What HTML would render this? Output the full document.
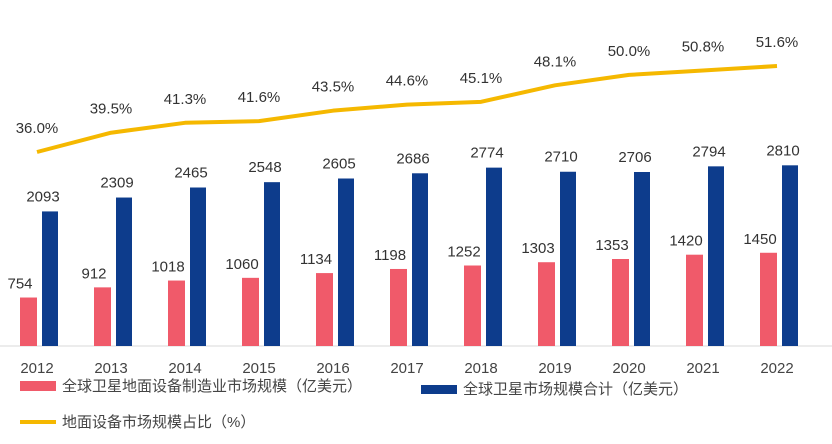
<!DOCTYPE html>
<html><head><meta charset="utf-8"><style>
body{margin:0;background:#fff;}
svg{display:block;font-family:"Liberation Sans","Noto Sans CJK SC",sans-serif;}
</style></head><body>
<svg id="c" width="832" height="444" viewBox="0 0 832 444">
<line x1="0" y1="346" x2="832" y2="346" stroke="#d9d9d9" stroke-width="1"/>
<g id="bars"></g>
<g id="lineg"></g>
<g id="xt"></g>
<g>
<rect x="20" y="381" width="36" height="10" fill="#f05a6a"/>
<text x="62" y="391" font-size="15" fill="#444">全球卫星地面设备制造业市场规模（亿美元）</text>
<rect x="421" y="385" width="36" height="9" fill="#0d3c8c"/>
<text x="463" y="394" font-size="15" fill="#444">全球卫星市场规模合计（亿美元）</text>
<line x1="20" y1="422" x2="56" y2="422" stroke="#f5b800" stroke-width="4"/>
<text x="62" y="427" font-size="15" fill="#444">地面设备市场规模占比（%）</text>
</g>
</svg>
<script>
const years=["2012","2013","2014","2015","2016","2017","2018","2019","2020","2021","2022"];
const ground=[754,912,1018,1060,1134,1198,1252,1303,1353,1420,1450];
const total=[2093,2309,2465,2548,2605,2686,2774,2710,2706,2794,2810];
const ratio=[36.0,39.5,41.3,41.6,43.5,44.6,45.1,48.1,50.0,50.8,51.6];
const NS="http://www.w3.org/2000/svg";
const base=346,k=0.0643;
function xc(i){return 39+i*74;}
function yb(v){return base-v*k;}
function yl(p){return 152-(p-36)*5.51;}
function mk(t,a,p){const e=document.createElementNS(NS,t);for(const n in a)e.setAttribute(n,a[n]);p.appendChild(e);return e;}
const bars=document.getElementById('bars'),lg=document.getElementById('lineg'),xt=document.getElementById('xt');
years.forEach((y,i)=>{
 const r=mk('rect',{x:xc(i)-19,y:yb(ground[i]),width:17,height:base-yb(ground[i]),fill:'#f05a6a'},bars);
 
 
 const b=mk('rect',{x:xc(i)+3,y:yb(total[i]),width:16,height:base-yb(total[i]),fill:'#0d3c8c'},bars);
 
 
 const t1=mk('text',{x:xc(i)-19,y:yb(ground[i])-9,'font-size':15,fill:'#333','text-anchor':'middle'},bars);t1.textContent=ground[i];
 
 
 const t2=mk('text',{x:xc(i)+4,y:yb(total[i])-10,'font-size':15,fill:'#333','text-anchor':'middle'},bars);t2.textContent=total[i];
 
 
 const t3=mk('text',{x:xc(i)-2,y:373,'font-size':15,fill:'#444','text-anchor':'middle'},xt);t3.textContent=y;
 
 
 const t4=mk('text',{x:xc(i)-2,y:yl(ratio[i])-19,'font-size':15,fill:'#333','text-anchor':'middle'},lg);t4.textContent=ratio[i].toFixed(1)+'%';
 
 
});
const pl=mk('polyline',{points:ratio.map((p,i)=>(xc(i)-2)+','+yl(p)).join(' '),fill:'none',stroke:'#f5b800','stroke-width':4,'stroke-linejoin':'round'},lg);


</script>
</body></html>
